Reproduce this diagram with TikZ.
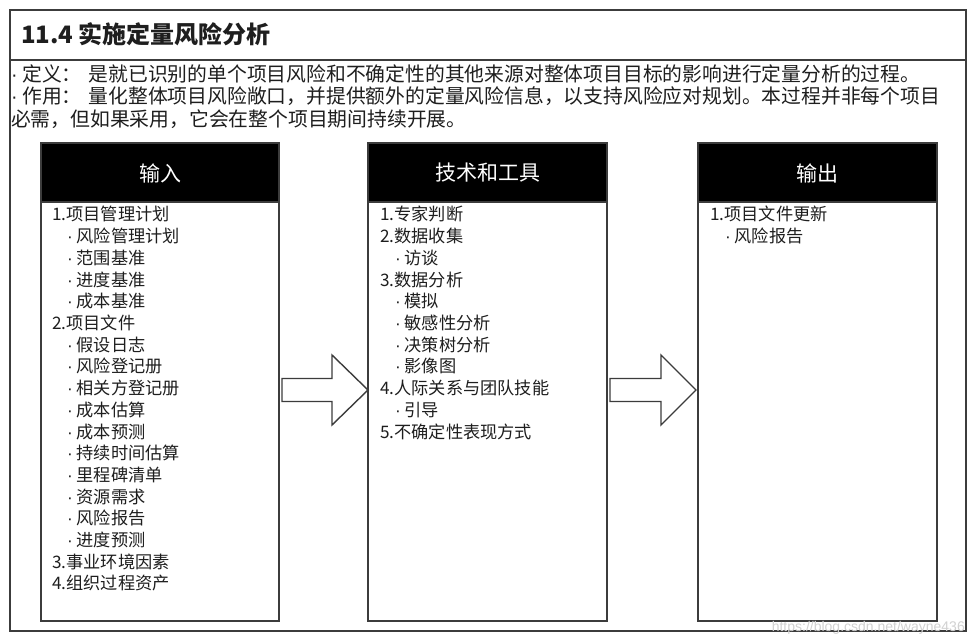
\documentclass[tikz,border=0pt]{standalone}
\usepackage{fontspec}
\setmainfont{Noto Sans CJK SC}
\newfontfamily\wmfont{Liberation Sans}
\newcommand\mydot{{\wmfont ·}}
\definecolor{lineg}{HTML}{3C3C3C}
\definecolor{txt}{HTML}{1E1E1E}
\tikzset{
  frame/.style={draw=lineg, line width=1.6pt},
  hdrtext/.style={text=white, font=\fontsize{21}{24}\selectfont, inner sep=0pt},
  bodybox/.style={draw=lineg, line width=1.6pt, fill=white},
  desc/.style={anchor=base west, inner sep=0pt, text=txt, font=\fontsize{19.8}{22}\selectfont},
  item/.style={anchor=base west, inner sep=0pt, text=txt, font=\fontsize{17.2}{20}\selectfont},
  bigarrow/.style={draw=lineg, line width=1.4pt, fill=white, line join=miter}
}
\begin{document}
\begin{tikzpicture}[x=1pt,y=-1pt]
\useasboundingbox (0,0) rectangle (975,639);
\fill[white] (0,0) rectangle (975,639);
% outer frame and title
\draw[frame] (10,10) rectangle (966,631);
\draw[frame] (10,60) -- (966,60);
\node[anchor=base west, inner sep=0pt, text=txt, font=\fontsize{24}{27}\bfseries] (title) at (21,44) {11.4 实施定量风险分析};
\node[desc] (d1) at (11,82) {\mydot\ 定义：\hspace{7pt}是就已识别的单个项目风险和不确定性的其他来源对整体项目目标的影响进行定量分析的过程。};
\node[desc] (d2) at (11,104) {\mydot\ 作用：\hspace{7pt}量化整体项目风险敞口，并提供额外的定量风险信息，以支持风险应对规划。本过程并非每个项目};
\node[desc] (d3) at (11,126.5) {必需，但如果采用，它会在整个项目期间持续开展。};
% boxes
\foreach \n/\xa/\xb/\lab in {in/41/279/输入, tt/368/607/技术和工具, out/698/937/输出}{
  \draw[bodybox] (\xa,202) rectangle (\xb,621);
  \fill[black] (\xa,143) rectangle (\xb,202);
  \draw[frame] (\xa,143) rectangle (\xb,202);
  \node[hdrtext] (h\n) at ({(\xa+\xb)/2},173) {\lab};
}
% arrows
\draw[bigarrow] (282,378.5) -- (332,378.5) -- (332,355) -- (368,390) -- (332,425) -- (332,401.5) -- (282,401.5) -- cycle;
\draw[bigarrow] (610,378.5) -- (661,378.5) -- (661,355) -- (696,390) -- (661,425) -- (661,401.5) -- (610,401.5) -- cycle;
% input items
\def\lh{21.7}
\foreach \t/\ind [count=\i from 0] in {1.项目管理计划/0, \mydot\ 风险管理计划/1, \mydot\ 范围基准/1, \mydot\ 进度基准/1, \mydot\ 成本基准/1, 2.项目文件/0, \mydot\ 假设日志/1, \mydot\ 风险登记册/1, \mydot\ 相关方登记册/1, \mydot\ 成本估算/1, \mydot\ 成本预测/1, \mydot\ 持续时间估算/1, \mydot\ 里程碑清单/1, \mydot\ 资源需求/1, \mydot\ 风险报告/1, \mydot\ 进度预测/1, 3.事业环境因素/0, 4.组织过程资产/0}{
  \node[item] (i\i) at ({52+15*\ind},{221+\i*\lh}) {\t};
}
\foreach \t/\ind [count=\i from 0] in {1.专家判断/0, 2.数据收集/0, \mydot\ 访谈/1, 3.数据分析/0, \mydot\ 模拟/1, \mydot\ 敏感性分析/1, \mydot\ 决策树分析/1, \mydot\ 影像图/1, 4.人际关系与团队技能/0, \mydot\ 引导/1, 5.不确定性表现方式/0}{
  \node[item] (t\i) at ({380+15*\ind},{221+\i*\lh}) {\t};
}
\foreach \t/\ind [count=\i from 0] in {1.项目文件更新/0, \mydot\ 风险报告/1}{
  \node[item] (o\i) at ({710+15*\ind},{221+\i*\lh}) {\t};
}
\node[anchor=base east, inner sep=0pt, text=black!18, font=\wmfont\fontsize{14}{16}\selectfont] (wm) at (965,631) {https://blog.csdn.net/wayne436};
\end{tikzpicture}
\end{document}
